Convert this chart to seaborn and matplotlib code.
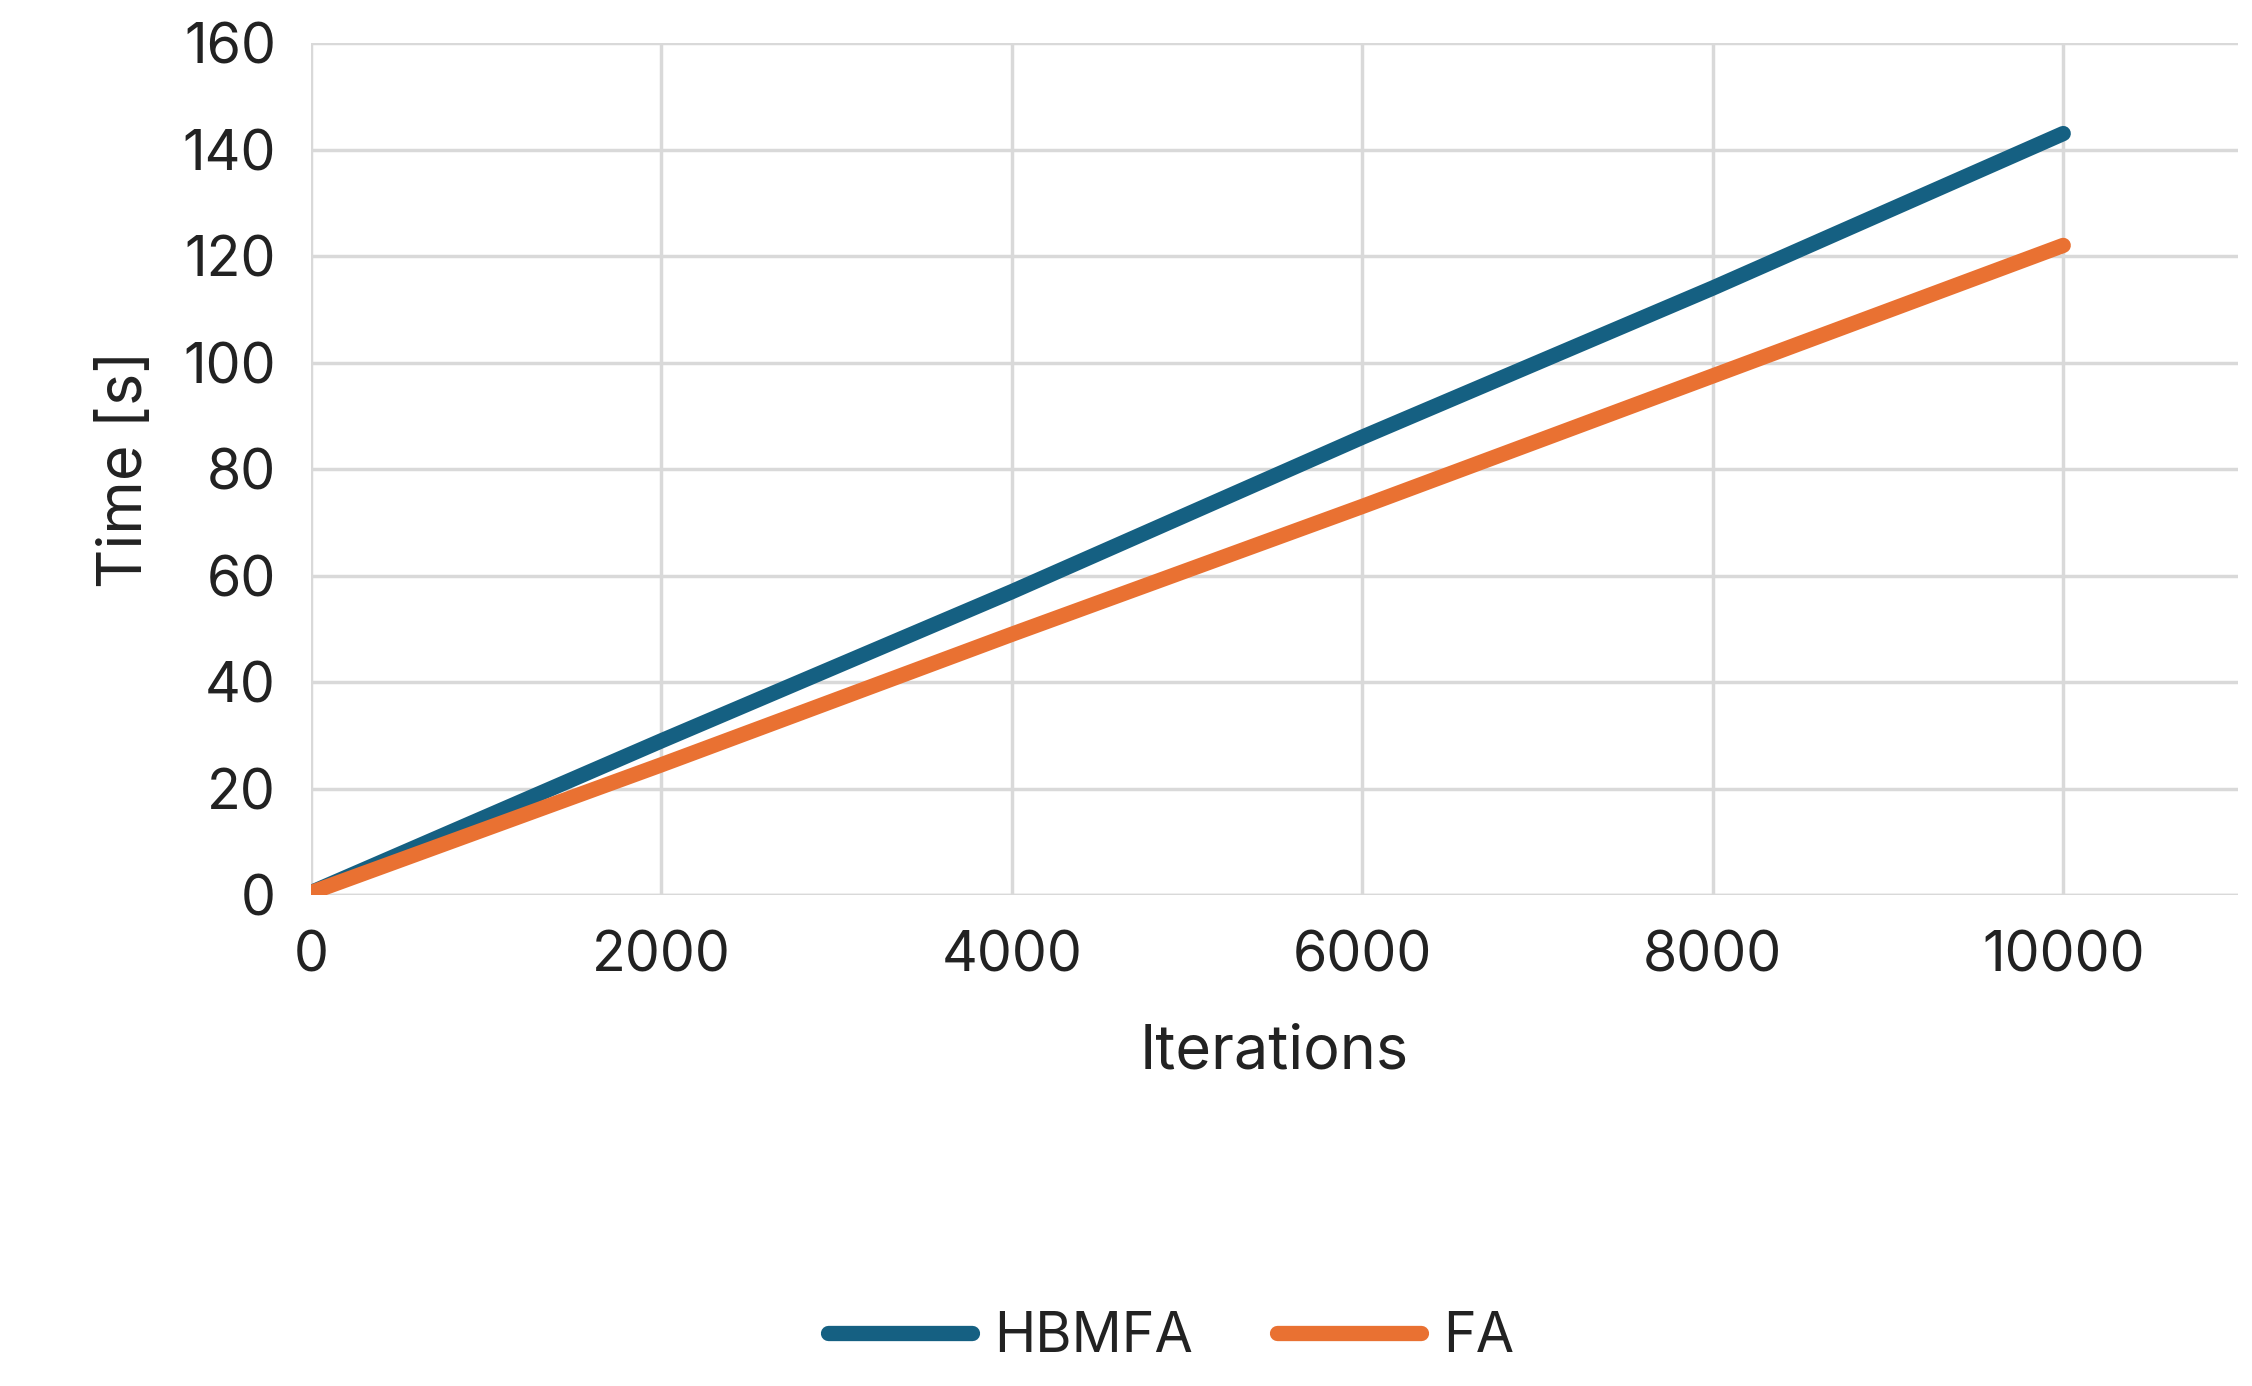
import matplotlib
matplotlib.use("Agg")
import matplotlib.pyplot as plt
import seaborn as sns
import pandas as pd

iterations = [0, 2000, 4000, 6000, 8000, 10000]
hbmfa = [0.5, 29, 57, 86, 114, 143]
fa = [0.5, 24.5, 49, 73, 97.5, 122]

df = pd.DataFrame({"Iterations": iterations * 2,
                   "Time": hbmfa + fa,
                   "Method": ["HBMFA"] * 6 + ["FA"] * 6})

sns.set_theme(style="white")
plt.rcParams['font.family'] = ['Inter', 'DejaVu Sans']

fig = plt.figure(figsize=(22.52, 13.86), dpi=100)
ax = fig.add_axes([0.138, 0.354, 0.856, 0.615])
sns.lineplot(data=df, x="Iterations", y="Time", hue="Method",
             palette={"HBMFA": "#156082", "FA": "#E97132"},
             linewidth=11, ax=ax, legend=False, solid_capstyle="round")
ax.set_xlim(0, 11000)
ax.set_ylim(0, 160)
ax.set_xticks(range(0, 10001, 2000))
ax.set_yticks(range(0, 161, 20))
ax.grid(True, color="#d9d9d9", linewidth=2.5)
for s in ax.spines.values():
    s.set_visible(False)
ax.axhline(0, color="#d9d9d9", linewidth=2.5, zorder=0)
ax.tick_params(labelsize=40, colors="#222222", length=0, pad=25)
ax.set_xlabel("Iterations", fontsize=44, color="#222222", labelpad=30)
ax.set_ylabel("Time [s]", fontsize=44, color="#222222", labelpad=20)

from matplotlib.lines import Line2D
handles = [Line2D([], [], color="#156082", lw=11, solid_capstyle="round"),
           Line2D([], [], color="#E97132", lw=11, solid_capstyle="round")]
fig.legend(handles, ["HBMFA", "FA"], loc="center", bbox_to_anchor=(0.52, 0.035),
           ncol=2, frameon=False, fontsize=40, handlelength=2.6, columnspacing=1.5,
           handletextpad=0.4, labelcolor="#222222")
fig.savefig("out.png", dpi=100)
